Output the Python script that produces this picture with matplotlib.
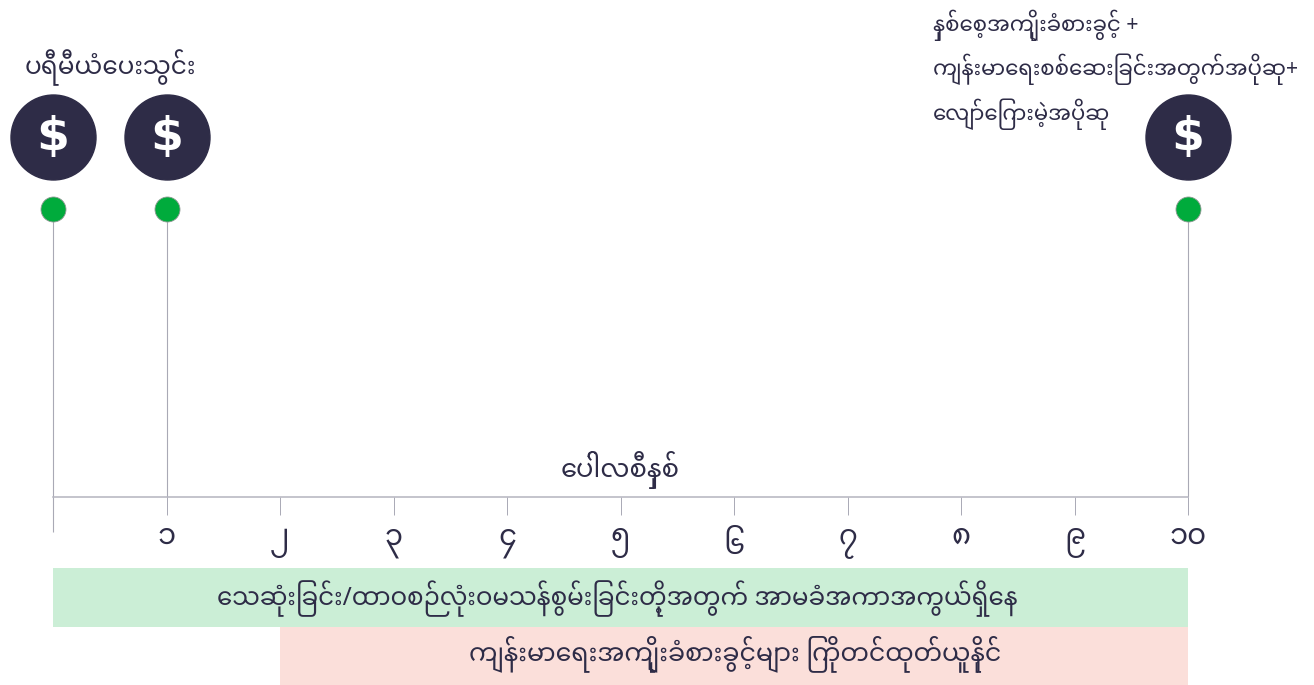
import re
import matplotlib
matplotlib.use("Agg")
import matplotlib.pyplot as plt
from matplotlib.transforms import ScaledTranslation

# policy years
years = list(range(0, 11))
year_labels = ["", "၁", "၂", "၃", "၄", "၅", "၆", "၇", "၈", "၉", "၁၀"]
payment_years = [0, 1, 10]
band_start = [0, 2]
band_end = [10, 10]

premium_label = "ပရီမီယံပေးသွင်း"
benefit_lines = [
    "နှစ်စေ့အကျိုးခံစားခွင့် +",
    "ကျန်းမာရေးစစ်ဆေးခြင်းအတွက်အပိုဆု+",
    "လျော်ကြေးမဲ့အပိုဆု",
]
axis_label = "ပေါ်လစီနှစ်"
band_labels = [
    "သေဆုံးခြင်း/ထာဝစဉ်လုံးဝမသန်စွမ်းခြင်းတို့အတွက် အာမခံအကာအကွယ်ရှိနေ",
    "ကျန်းမာရေးအကျိုးခံစားခွင့်များ ကြိုတင်ထုတ်ယူနိုင်",
]

DARK = "#2e2c47"
GREY = "#a9a9b5"
FONT = ["Noto Sans Myanmar", "DejaVu Sans"]


# matplotlib does no shaping, so put the pre-base vowel and medial ra in drawing order
def mm(text):
    text = re.sub("([\u1000-\u1021])([\u103b\u103c\u103d\u103e]*)\u1031", "\u1031\\1\\2", text)
    text = re.sub("([\u1000-\u1021])\u103c", "\u103c\\1", text)
    return text


px_per_year = 113.5
fig = plt.figure(figsize=(13.14, 6.85), dpi=100)
ax = fig.add_axes([0, 0, 1, 1])
ax.set_xlim(-53 / px_per_year, (1314 - 53) / px_per_year)
ax.set_ylim(685, 0)

for s in ["top", "left", "right"]:
    ax.spines[s].set_visible(False)
ax.spines["bottom"].set_position(("data", 497))
ax.spines["bottom"].set_bounds(0, 10)
ax.spines["bottom"].set_color("#b4b4bf")
ax.spines["bottom"].set_linewidth(1.1)
ax.set_yticks([])
ax.set_xticks(years)
ax.set_xticklabels([mm(t) for t in year_labels], family=FONT, fontsize=21, color=DARK, va="baseline")
ax.tick_params(axis="x", direction="out", length=13, width=0.7, color=GREY, pad=21)

# this font draws the six higher than the other digits
six = ax.get_xticklabels()[6]
six.set_transform(six.get_transform() + ScaledTranslation(0, -10 / 100, fig.dpi_scale_trans))

# coloured bands under the axis
ax.barh(597.5, band_end[0] - band_start[0], left=band_start[0], height=59, color="#cbeed6")
ax.barh(656, band_end[1] - band_start[1], left=band_start[1], height=58, color="#fbdfda")

# payment stems, dots and coins
ax.vlines(payment_years, 209, 497, color=GREY, linewidth=0.8, zorder=1)
ax.vlines(0, 497, 532, color=GREY, linewidth=0.8, zorder=1)
ax.scatter(payment_years, [209] * 3, s=(25 * 0.72) ** 2, color="#00ab3c",
           edgecolor="#8f9a94", linewidth=0.6, zorder=3)
ax.scatter(payment_years, [137] * 3, s=(85 * 0.72) ** 2, color=DARK, zorder=3)
for x in payment_years:
    ax.text(x, 137, "$", color="white", fontsize=34, fontweight="bold",
            family="DejaVu Sans", ha="center", va="center", zorder=4)


def label(x_px, y_px, text, size, ha="center"):
    ax.text((x_px - 53) / px_per_year, y_px, mm(text), family=FONT, fontsize=size,
            color=DARK, ha=ha, va="baseline")


label(110, 74, premium_label, 17.8)
for line, y in zip(benefit_lines, [31, 75, 120]):
    label(933, y, line, 15.35, ha="left")
label(620, 477, axis_label, 18.6)
label(617, 605, band_labels[0], 17.7)
label(735, 660, band_labels[1], 18.2)

fig.savefig("out.png", dpi=100)
